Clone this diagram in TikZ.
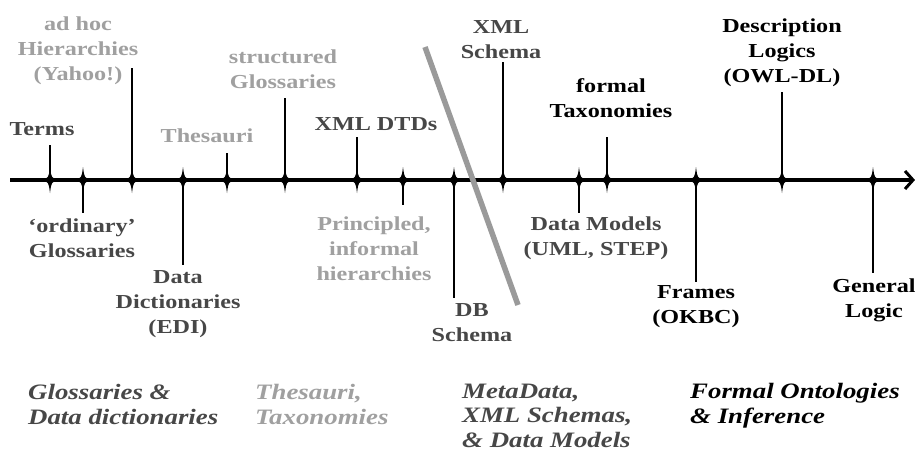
\documentclass[tikz,border=0pt]{standalone}
\usepackage{fontspec}
\setmainfont{Liberation Serif}[FakeStretch=1.22]
\usetikzlibrary{arrows.meta}
\definecolor{inkdark}{HTML}{474747}
\definecolor{inklight}{HTML}{A0A0A0}
\definecolor{barcol}{HTML}{9A9A9A}
\begin{document}
\begin{tikzpicture}[x=1pt,y=-1pt,
  % multi-line nodes: the base anchor sits on the last line's baseline
  lab/.style={font=\fontsize{19.8}{25}\selectfont\bfseries, align=center, inner sep=0pt, anchor=base},
  era/.style={font=\fontsize{22}{24.5}\selectfont\bfseries\itshape, align=left, inner sep=0pt, anchor=base west},
  stem/.style={line width=1.1pt},
  spark/.pic={\fill (0,-13) .. controls (1.4,-2.2) .. (8,0) .. controls (1.4,2.2) .. (0,13)
      .. controls (-1.4,2.2) .. (-8,0) .. controls (-1.4,-2.2) .. (0,-13) -- cycle;}
]
\useasboundingbox[fill=white] (0,0) rectangle (915,453);

% timeline axis
\coordinate (start) at (10,180);
\coordinate (end) at (915,180);
\draw[line width=4pt, -{Straight Barb[length=8pt,width=18pt,line width=3pt]}] (start) -- (end);

% tick positions along the axis
\foreach \n/\x in {t1/50, t2/83, t3/132, t4/183, t5/227, t6/285, t7/357, t8/403,
                   t9/454, t10/503, t11/579, t12/607, t13/696, t14/782, t15/873}
  \coordinate (\n) at (\x,180);

% stem ends
\coordinate (e1) at (50,145);
\coordinate (e2) at (83,213);
\coordinate (e3) at (132,68);
\coordinate (e4) at (183,265);
\coordinate (e5) at (227,153);
\coordinate (e6) at (285,98);
\coordinate (e7) at (357,137);
\coordinate (e8) at (403,205);
\coordinate (e9) at (454,298);
\coordinate (e10) at (503,62);
\coordinate (e11) at (579,213);
\coordinate (e12) at (607,137);
\coordinate (e13) at (696,282);
\coordinate (e14) at (782,92);
\coordinate (e15) at (873,273);

\foreach \i in {1,...,15} {
  \draw[stem] (t\i) -- (e\i);
  \pic at (t\i) {spark};
}

% boundary bar
\coordinate (b1) at (425,47);
\coordinate (b2) at (518,305);
\draw[barcol, line width=5.5pt] (b1) -- (b2);

% labels above the axis
\node[lab, inkdark]  (terms) at (42,135)  {Terms};
\node[lab, inklight] (adhoc) at (78,80)   {ad hoc\\Hierarchies\\(Yahoo!)};
\node[lab, inklight] (thes)  at (207,142) {Thesauri};
\node[lab, inklight] (sglos) at (283,88)  {structured\\Glossaries};
\node[lab, inkdark]  (dtd)   at (376,130) {XML DTDs};
\node[lab, inkdark]  (xsd)   at (501,58)  {XML\\Schema};
\node[lab, black]    (ftax)  at (611,117) {formal\\Taxonomies};
\node[lab, black]    (dl)    at (782,82)  {Description\\Logics\\(OWL-DL)};

% labels below the axis
\node[lab, inkdark]  (oglos) at (82,257)  {‘ordinary’\\Glossaries};
\node[lab, inkdark]  (ddict) at (178,333) {Data\\Dictionaries\\(EDI)};
\node[lab, inklight] (princ) at (374,280) {Principled,\\informal\\hierarchies};
\node[lab, inkdark]  (dbs)   at (472,341) {DB\\Schema};
\node[lab, inkdark]  (dmod)  at (596,255) {Data Models\\(UML, STEP)};
\node[lab, black]    (frm)   at (696,323) {Frames\\(OKBC)};
\node[lab, black]    (glog)  at (874,317) {General\\Logic};

% era captions
\node[era, inkdark]  (era1) at (28,424)  {Glossaries \&\\Data dictionaries};
\node[era, inklight] (era2) at (255,424) {Thesauri,\\Taxonomies};
\node[era, inkdark]  (era3) at (462,447) {MetaData,\\XML Schemas,\\\& Data Models};
\node[era, black]    (era4) at (690,423) {Formal Ontologies\\\& Inference};
\end{tikzpicture}
\end{document}
